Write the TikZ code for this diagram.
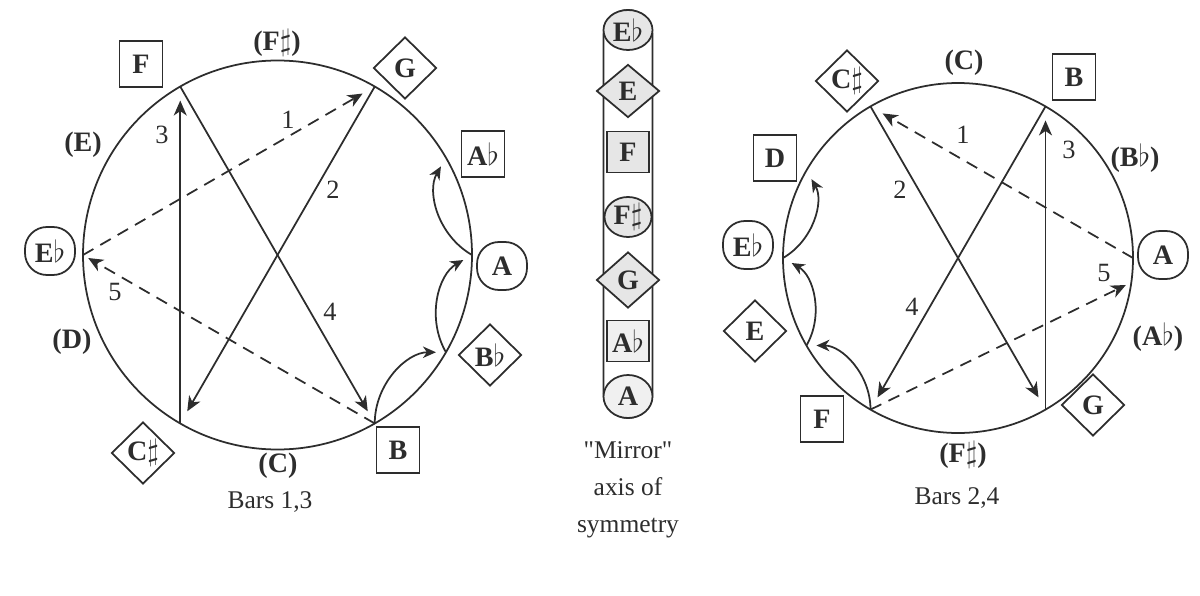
\documentclass[tikz,border=0pt]{standalone}
\usepackage{fontspec}
\setmainfont{Liberation Serif}
\usepackage{tikz}
\usepackage{xcolor}
\definecolor{inkgray}{RGB}{45,45,45}
\definecolor{axisfill}{RGB}{230,230,230}
\usetikzlibrary{shapes.geometric,arrows.meta,calc,positioning}

\begin{document}
\begin{tikzpicture}[x=0.2cm, y=0.2cm, line width=1pt,
    notefont/.style={font=\fontsize{16}{19}\selectfont\bfseries, text=inkgray},
    notebox/.style={notefont, draw=inkgray, rectangle, inner sep=0pt, minimum width=0.86cm, minimum height=0.92cm},
    notedia/.style={notefont, draw=inkgray, diamond, inner sep=0pt, minimum width=1.26cm, minimum height=1.24cm},
    noternd/.style={notefont, draw=inkgray, rectangle, rounded corners=0.44cm, inner sep=0pt, minimum width=1.0cm, minimum height=0.96cm},
    absent/.style={notefont},
    stepnum/.style={font=\fontsize{15}{18}\selectfont, text=inkgray},
    caption/.style={font=\fontsize{14.5}{21}\selectfont, text=inkgray, align=center},
    move/.style={draw=inkgray, -{Stealth[length=3mm, width=2.6mm, inset=0.9mm]}, shorten >=0.28cm},
    jump/.style={move, dash pattern=on 2.4mm off 1.6mm},
    slide/.style={draw=inkgray, -{Stealth[length=2.6mm, width=2.3mm, inset=0.8mm]}, shorten >=0.2cm},
]
    \useasboundingbox (0,0) rectangle (120,59.5);

    % Left circle: Bars 1,3
    \coordinate (Lc) at (27.75,34.0);
    \draw[inkgray] (Lc) circle (19.45);
    \foreach \n/\a in {Eb/180, E/150, F/120, Fs/90, G/60, Ab/30, A/0, Bb/-30, B/-60, C/-90, Cs/-120, D/-150} {
        \coordinate (L\n) at ($(Lc)+(\a:19.45)$);
    }

    % Left moves
    \draw[jump] (LEb) -- (LG);
    \draw[move] (LG) -- (LCs);
    \draw[move] (LCs) -- (LF);
    \draw[move] (LF) -- (LB);
    \draw[jump, shorten >=0.12cm] (LB) -- (LEb);
    \draw[slide] (LB) to[bend left=45] (LBb);
    \draw[slide] (LBb) to[bend left=45] (LA);
    \draw[slide] (LA) to[bend left=45] (LAb);

    \node[stepnum] (l1) at (28.8,47.5) {1};
    \node[stepnum] (l2) at (33.3,40.5) {2};
    \node[stepnum] (l3) at (16.2,46.0) {3};
    \node[stepnum] (l4) at (33.0,28.3) {4};
    \node[stepnum] (l5) at (11.5,30.3) {5};

    % Left labels
    \node[notebox] (lF) at (14.1,53.1) {F};
    \node[absent] (lFs) at (27.7,55.2) {(F$\sharp$)};
    \node[notedia] (lG) at (40.5,52.7) {G};
    \node[notebox] (lAb) at (48.3,44.1) {A$\flat$};
    \node[noternd] (lA) at (50.2,32.9) {A};
    \node[notedia] (lBb) at (49.0,24.0) {B$\flat$};
    \node[notebox] (lB) at (39.8,14.5) {B};
    \node[absent] (lC) at (27.8,12.9) {(C)};
    \node[notedia] (lCs) at (14.3,14.2) {C$\sharp$};
    \node[absent] (lD) at (7.2,25.3) {(D)};
    \node[noternd] (lEb) at (5.0,34.4) {E$\flat$};
    \node[absent] (lE) at (8.3,45.0) {(E)};
    \node[caption] (lcap) at (27.0,9.3) {Bars 1,3};

    % Mirror axis
    \draw[inkgray, rounded corners=0.49cm] (60.35,17.7) rectangle (65.25,58.5);
    \node[notefont, draw=inkgray, fill=axisfill, ellipse, inner sep=0pt, minimum width=0.98cm, minimum height=0.8cm] (mEb) at (62.8,56.5) {E$\flat$};
    \node[notedia, fill=axisfill, minimum height=1.06cm] (mE) at (62.8,50.4) {E};
    \node[notebox, fill=axisfill, minimum width=0.84cm, minimum height=0.82cm] (mF) at (62.8,44.3) {F};
    \node[notefont, draw=inkgray, fill=axisfill, ellipse, inner sep=0pt, minimum width=0.94cm, minimum height=0.8cm] (mFs) at (62.8,37.8) {F$\sharp$};
    \node[notedia, fill=axisfill, minimum height=1.12cm] (mG) at (62.8,31.5) {G};
    \node[notebox, fill=axisfill!60, minimum width=0.84cm, minimum height=0.82cm] (mAb) at (62.8,25.4) {A$\flat$};
    \node[notefont, draw=inkgray, fill=axisfill!60, ellipse, inner sep=0pt, minimum width=0.98cm, minimum height=0.86cm] (mA) at (62.8,19.85) {A};
    \node[caption] (mcap) at (62.8,10.55) {\textquotedbl Mirror\textquotedbl\\axis of\\symmetry};

    % Right circle: Bars 2,4
    \coordinate (Rc) at (95.8,33.7);
    \draw[inkgray] (Rc) circle (17.5);
    \foreach \n/\a in {A/0, Bb/30, B/60, C/90, Cs/120, D/150, Eb/180, E/210, F/240, Fs/270, G/300, Ab/330} {
        \coordinate (R\n) at ($(Rc)+(\a:17.5)$);
    }
    \coordinate (Rfive) at ($(Rc)+(-8:17.5)$);

    % Right moves
    \draw[jump] (RA) -- (RCs);
    \draw[move] (RCs) -- (RG);
    \draw[move] (RG) -- (RB);
    \draw[move] (RB) -- (RF);
    \draw[jump, shorten >=0.12cm] (RF) -- (Rfive);
    \draw[slide] (RF) to[bend right=45] (RE);
    \draw[slide] (RE) to[bend right=45] (REb);
    \draw[slide] (REb) to[bend right=45] (RD);

    \node[stepnum] (r1) at (96.3,46.0) {1};
    \node[stepnum] (r2) at (90.0,40.5) {2};
    \node[stepnum] (r3) at (106.9,44.5) {3};
    \node[stepnum] (r4) at (91.2,28.8) {4};
    \node[stepnum] (r5) at (110.4,32.2) {5};

    % Right labels
    \node[notedia] (rCs) at (84.7,51.4) {C$\sharp$};
    \node[absent] (rC) at (96.4,53.2) {(C)};
    \node[notebox] (rB) at (107.4,51.8) {B};
    \node[absent] (rBb) at (113.5,43.7) {(B$\flat$)};
    \node[noternd] (rA) at (116.3,34.0) {A};
    \node[absent] (rAb) at (115.8,25.8) {(A$\flat$)};
    \node[notedia] (rG) at (109.3,19.0) {G};
    \node[absent] (rFs) at (96.3,14.0) {(F$\sharp$)};
    \node[notebox] (rF) at (82.2,17.6) {F};
    \node[notedia] (rE) at (75.5,26.4) {E};
    \node[noternd] (rEb) at (74.8,35.0) {E$\flat$};
    \node[notebox] (rD) at (77.5,43.7) {D};
    \node[caption] (rcap) at (95.7,9.7) {Bars 2,4};
\end{tikzpicture}
\end{document}
